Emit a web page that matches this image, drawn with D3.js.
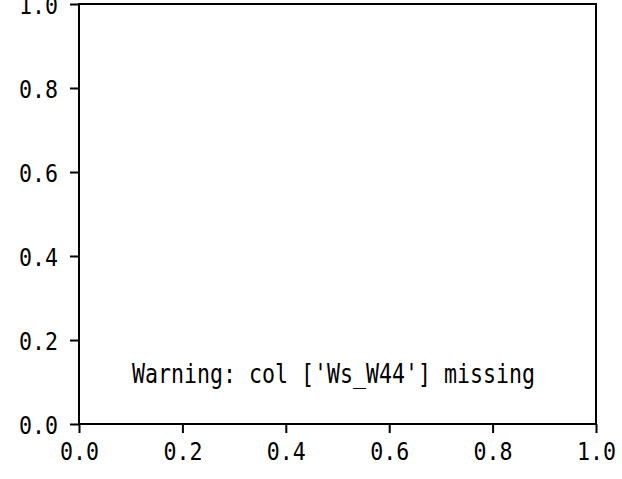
<!DOCTYPE html>
<html>
<head>
<meta charset="utf-8">
<script src="https://cdn.jsdelivr.net/npm/d3@7"></script>
<style>
  html, body { margin: 0; padding: 0; background: #fff; }
  svg { display: block; }
</style>
</head>
<body>
<svg id="chart" width="622" height="479"></svg>
<script>
const xTicks = [0.0, 0.2, 0.4, 0.6, 0.8, 1.0];
const yTicks = [0.0, 0.2, 0.4, 0.6, 0.8, 1.0];
const xDomain = [0, 1];
const yDomain = [0, 1];
const warningText = "Warning: col ['Ws_W44'] missing";
const warningPos = [0.5, 0.1];

(function () {
const svg = d3.select("#chart");
const mLeft = 79, mRight = 596, mTop = 4, mBottom = 424;
const font = "'DejaVu Sans Mono', 'Liberation Mono', monospace";

const x = d3.scaleLinear().domain(xDomain).range([mLeft, mRight]);
const y = d3.scaleLinear().domain(yDomain).range([mBottom, mTop]);
const fmt = d3.format(".1f");

// frame
svg.append("rect")
  .attr("x", mLeft).attr("y", mTop)
  .attr("width", mRight - mLeft).attr("height", mBottom - mTop)
  .attr("fill", "none").attr("stroke", "#000").attr("stroke-width", 2);

// x axis
const xAxis = svg.append("g").attr("transform", `translate(0,${mBottom})`)
  .call(d3.axisBottom(x).tickValues(xTicks).tickFormat(fmt).tickSize(9).tickSizeOuter(0).tickPadding(10));
xAxis.select(".domain").remove();
xAxis.selectAll(".tick line").attr("stroke", "#000").attr("stroke-width", 2);
xAxis.selectAll(".tick text")
  .attr("y", 36).attr("dy", null)
  .attr("font-family", font).attr("font-size", 24)
  .attr("textLength", 39).attr("lengthAdjust", "spacingAndGlyphs")
  .attr("fill", "#000");

// y axis
const yAxis = svg.append("g").attr("transform", `translate(${mLeft},0)`)
  .call(d3.axisLeft(y).tickValues(yTicks).tickFormat(fmt).tickSize(9).tickSizeOuter(0).tickPadding(12));
yAxis.select(".domain").remove();
yAxis.selectAll(".tick line").attr("stroke", "#000").attr("stroke-width", 2);
yAxis.selectAll(".tick text")
  .attr("dy", "0.38em")
  .attr("font-family", font).attr("font-size", 24)
  .attr("textLength", 39).attr("lengthAdjust", "spacingAndGlyphs")
  .attr("fill", "#000");

// warning text
svg.append("text")
  .attr("x", x(warningPos[0]) - 4)
  .attr("y", y(warningPos[1]) + 1)
  .attr("text-anchor", "middle")
  .attr("font-family", font)
  .attr("font-size", 26)
  .attr("textLength", 403)
  .attr("lengthAdjust", "spacingAndGlyphs")
  .attr("fill", "#000")
  .text(warningText);
})();
</script>
</body>
</html>
